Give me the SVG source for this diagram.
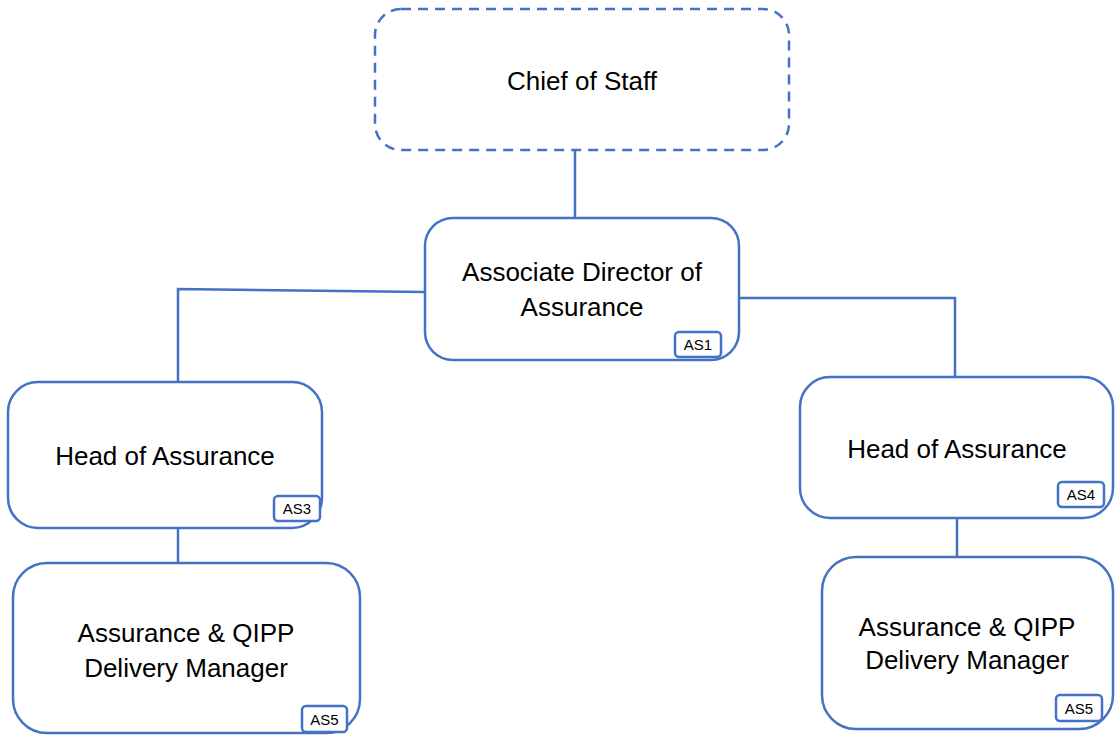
<svg xmlns="http://www.w3.org/2000/svg" width="1115" height="735" viewBox="0 0 1115 735">
<style>
.box{fill:#fff;stroke:#4472C4;stroke-width:2.5}
.dash{stroke-dasharray:10 7}
.badge{fill:#fff;stroke:#4472C4;stroke-width:2.5}
.t{font-family:"Liberation Sans",Arial,sans-serif;font-size:26px;fill:#000;text-anchor:middle}
.b{font-family:"Liberation Sans",Arial,sans-serif;font-size:15px;fill:#000;text-anchor:middle}
.c{fill:none;stroke:#4472C4;stroke-width:2.5}
</style>
<rect width="1115" height="735" fill="#fff"/>
<g id="connectors">
<line class="c" x1="575" y1="149" x2="575" y2="218"/>
<polyline class="c" points="425,292 178,289 178,382"/>
<polyline class="c" points="739,298 955,298 955,377"/>
<line class="c" x1="178" y1="528" x2="178" y2="563"/>
<line class="c" x1="957" y1="518" x2="957" y2="557"/>
</g>
<g id="chief">
<rect class="box dash" x="375" y="9" width="414" height="141" rx="26"/>
<text class="t" x="582" y="90">Chief of Staff</text>
</g>
<g id="assoc">
<rect class="box" x="425" y="218" width="314" height="142" rx="28"/>
<text class="t" x="582" y="281">Associate Director of</text>
<text class="t" x="582" y="316">Assurance</text>
<rect class="badge" x="675" y="332" width="46" height="25" rx="4"/>
<text class="b" x="698" y="350">AS1</text>
</g>
<g id="head-left">
<rect class="box" x="8" y="382" width="314" height="146" rx="30"/>
<text class="t" x="165" y="465">Head of Assurance</text>
<rect class="badge" x="274" y="496" width="46" height="25" rx="4"/>
<text class="b" x="297" y="514">AS3</text>
</g>
<g id="head-right">
<rect class="box" x="800" y="377" width="313" height="141" rx="30"/>
<text class="t" x="957" y="458">Head of Assurance</text>
<rect class="badge" x="1058" y="482" width="46" height="25" rx="4"/>
<text class="b" x="1081" y="500">AS4</text>
</g>
<g id="dm-left">
<rect class="box" x="13" y="563" width="347" height="170" rx="34"/>
<text class="t" x="186" y="642">Assurance &amp; QIPP</text>
<text class="t" x="186" y="677">Delivery Manager</text>
<rect class="badge" x="302" y="706" width="45" height="26" rx="4"/>
<text class="b" x="324.5" y="725">AS5</text>
</g>
<g id="dm-right">
<rect class="box" x="822" y="557" width="291" height="172" rx="34"/>
<text class="t" x="967" y="636">Assurance &amp; QIPP</text>
<text class="t" x="967" y="669">Delivery Manager</text>
<rect class="badge" x="1056" y="695" width="46" height="26" rx="4"/>
<text class="b" x="1079" y="714">AS5</text>
</g>
</svg>
